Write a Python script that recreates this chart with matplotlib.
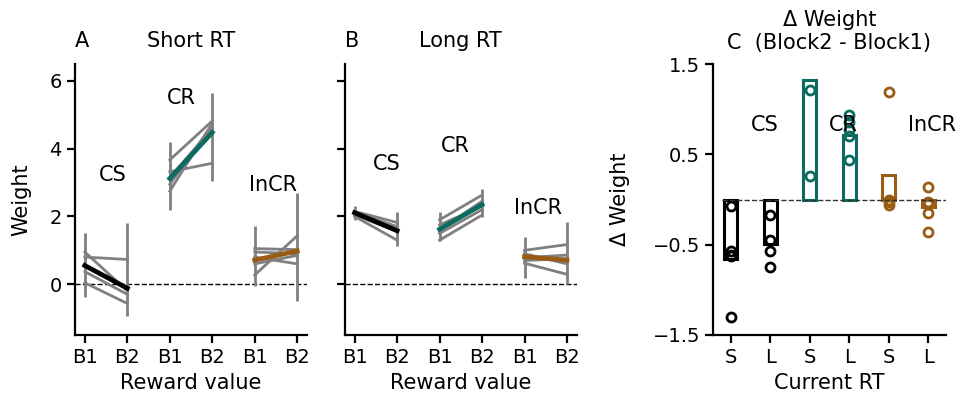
import matplotlib
matplotlib.use('Agg')
import matplotlib.pyplot as plt
import numpy as np

plt.rcParams['font.family'] = ['DejaVu Sans']
plt.rcParams['font.size'] = 15

# Reward-value weights per subject (rows: CS, CR, InCR)
groups = ['CS', 'CR', 'InCR']
block_ticks = ['B1', 'B2', 'B1', 'B2', 'B1', 'B2']

short_b1 = [
    [0.95, 0.80, 0.55, 0.37, 0.04],
    [3.67, 3.32, 3.15, 2.95, 2.75],
    [1.05, 0.95, 0.80, 0.60, 0.27],
]
short_b2 = [
    [-0.20, 0.73, -0.15, -0.30, -0.57],
    [4.82, 3.57, 4.60, 4.70, 4.75],
    [1.02, 0.90, 0.60, 0.85, 1.43],
]
short_mean_b1 = [0.55, 3.12, 0.71]
short_mean_b2 = [-0.12, 4.48, 0.98]
short_err_lo = [[-0.39, -0.93], [2.19, 3.05], [-0.06, -0.49]]
short_err_hi = [[1.52, 1.81], [4.21, 5.64], [1.71, 2.70]]

long_b1 = [
    [2.15, 2.12, 2.08, 2.05, 2.00],
    [1.90, 1.75, 1.60, 1.50, 1.30],
    [1.00, 0.90, 0.78, 0.70, 0.62],
]
long_b2 = [
    [1.82, 1.70, 1.60, 1.55, 1.30],
    [2.63, 2.30, 2.45, 2.20, 2.04],
    [1.17, 0.60, 0.86, 0.75, 0.29],
]
long_mean_b1 = [2.11, 1.62, 0.81]
long_mean_b2 = [1.58, 2.35, 0.71]
long_err_lo = [[1.89, 1.12], [1.27, 1.99], [0.17, 0.00]]
long_err_hi = [[2.32, 2.14], [2.14, 2.80], [1.40, 1.85]]

# Delta weight (Block2 - Block1) by current RT
rt_ticks = ['S', 'L', 'S', 'L', 'S', 'L']
delta_bars = [-0.66, -0.49, 1.32, 0.71, 0.27, -0.08]
delta_points = [
    [-0.07, -0.57, -0.61, -0.63, -1.30],
    [-0.17, -0.45, -0.57, -0.745],
    [1.21, 0.26],
    [0.94, 0.86, 0.77, 0.70, 0.44],
    [1.19, 0.00, -0.03, -0.06],
    [0.14, -0.03, -0.05, -0.15, -0.36],
]

TEAL = '#0b6b60'
BROWN = '#9a5b14'
group_colors = ['black', TEAL, BROWN]


def style_axes(ax):
    for side in ['top', 'right']:
        ax.spines[side].set_visible(False)
    for side in ['left', 'bottom']:
        ax.spines[side].set_linewidth(1.6)
    ax.tick_params(width=1.6, length=6, labelsize=14)


def weight_panel(ax, b1, b2, m1, m2, lo, hi, label_pos):
    for g in range(len(groups)):
        xs = [2 * g, 2 * g + 1]
        ax.vlines(xs, lo[g], hi[g], color='gray', lw=2.0, zorder=2)
        for v1, v2 in zip(b1[g], b2[g]):
            ax.plot(xs, [v1, v2], color='gray', lw=2.0, zorder=2)
        ax.plot(xs, [m1[g], m2[g]], color=group_colors[g], lw=3.4, zorder=3)
        ax.text(label_pos[g][0], label_pos[g][1], groups[g],
                ha='center', va='center', fontsize=15)
    ax.axhline(0, color='black', lw=1, ls='--', zorder=1)
    ax.set_xlim(-0.235, 5.235)
    ax.set_ylim(-1.5, 6.5)
    ax.set_yticks([0, 2, 4, 6])
    ax.set_xticks(range(6))
    ax.set_xticklabels(block_ticks)
    ax.set_xlabel('Reward value', fontsize=15)
    style_axes(ax)


fig = plt.figure(figsize=(9.6, 4.08), dpi=100)
ax_a = fig.add_axes([0.078, 0.179, 0.242, 0.664])
ax_b = fig.add_axes([0.359, 0.179, 0.242, 0.664])
ax_c = fig.add_axes([0.743, 0.179, 0.242, 0.664])

weight_panel(ax_a, short_b1, short_b2, short_mean_b1, short_mean_b2,
             short_err_lo, short_err_hi, [(0.65, 3.22), (2.28, 5.49), (4.42, 2.93)])
ax_a.set_ylabel('Weight', fontsize=15, labelpad=13)
ax_a.set_title('Short RT', fontsize=15, pad=12)
ax_a.set_title('A', loc='left', fontsize=15, pad=12)

weight_panel(ax_b, long_b1, long_b2, long_mean_b1, long_mean_b2,
             long_err_lo, long_err_hi, [(0.75, 3.55), (2.38, 4.08), (4.32, 2.24)])
ax_b.set_yticklabels([])
ax_b.set_title('Long RT', fontsize=15, pad=12)
ax_b.set_title('B', loc='left', fontsize=15, pad=12)

# panel C: open bars with individual subjects as open circles
xs = np.arange(len(delta_bars))
bar_colors = ['black', 'black', TEAL, TEAL, BROWN, BROWN]
ax_c.bar(xs, delta_bars, width=0.33, facecolor='white', edgecolor=bar_colors,
         linewidth=2.2, zorder=2)
for x, pts, c in zip(xs, delta_points, bar_colors):
    ax_c.plot([x] * len(pts), pts, 'o', ms=6.5, mfc='none', mec=c, mew=2.0, zorder=3)
ax_c.hlines(0, -0.23, 5.44, color='#333333', lw=1, ls='--', zorder=4)
for g, xpos in enumerate([0.86, 2.86, 5.1]):
    ax_c.text(xpos, 0.83, groups[g], ha='center', va='center', fontsize=15)
ax_c.set_xlim(-0.44, 5.44)
ax_c.set_ylim(-1.5, 1.5)
ax_c.set_yticks([-1.5, -0.5, 0.5, 1.5])
ax_c.set_yticklabels(['\u22121.5', '\u22120.5', '0.5', '1.5'])
ax_c.set_xticks(xs)
ax_c.set_xticklabels(rt_ticks)
ax_c.set_xlabel('Current RT', fontsize=15)
ax_c.set_ylabel('\u0394 Weight', fontsize=15, labelpad=16)
ax_c.set_title('\u0394 Weight\nC  (Block2 - Block1)', fontsize=15, pad=11)
style_axes(ax_c)

fig.savefig('out.png', dpi=100)
